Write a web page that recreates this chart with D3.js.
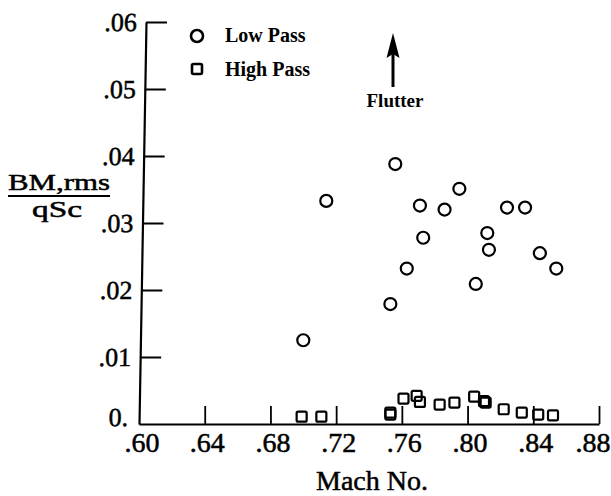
<!DOCTYPE html>
<html>
<head>
<meta charset="utf-8">
<script src="https://cdn.jsdelivr.net/npm/d3@7"></script>
<style>
  body { margin: 0; background: #fff; }
  text { font-family: "Liberation Serif", "DejaVu Serif", serif; fill: #000; }
  .heavy { stroke: #000; stroke-width: 0.5px; }
</style>
</head>
<body>
<svg id="chart" width="611" height="496"></svg>
<script>
// Low pass (circles)
const lowMach = [0.700, 0.714, 0.753, 0.756, 0.763, 0.771, 0.773, 0.786, 0.795, 0.805, 0.812, 0.813, 0.824, 0.835, 0.844, 0.854]
const lowBM   = [0.0125, 0.0333, 0.0179, 0.0388, 0.0232, 0.0326, 0.0278, 0.0320, 0.0351, 0.0209, 0.0285, 0.0260, 0.0323, 0.0323, 0.0255, 0.0232]
// High pass (squares)
const highMach = [0.699, 0.711, 0.753, 0.753, 0.761, 0.769, 0.771, 0.783, 0.792, 0.804, 0.810, 0.811, 0.822, 0.833, 0.843, 0.852]
const highBM   = [0.0011, 0.0011, 0.0017, 0.0014, 0.0038, 0.0042, 0.0033, 0.0029, 0.0032, 0.0041, 0.0034, 0.0032, 0.0022, 0.0017, 0.0014, 0.0013]

const xTicks = [0.60, 0.64, 0.68, 0.72, 0.76, 0.80, 0.84, 0.88]
const xTickLabels = [".60", ".64", ".68", ".72", ".76", ".80", ".84", ".88"]
const yTicks = [0, 0.01, 0.02, 0.03, 0.04, 0.05, 0.06]
const yTickLabels = ["0.", ".01", ".02", ".03", ".04", ".05", ".06"]

const svg = d3.select("#chart")

const x = d3.scaleLinear().domain([0.60, 0.88]).range([139, 599])
const y = d3.scaleLinear().domain([0, 0.06]).range([424, 22])

// x axis, ticks pointing up, labels below
const xAxis = svg.append("g")
  .attr("transform", "translate(0," + y(0) + ")")
  .call(d3.axisBottom(x)
    .tickValues(xTicks.slice(1))
    .tickFormat((d) => xTickLabels[xTicks.indexOf(d)])
    .tickSizeInner(-18)
    .tickSizeOuter(0)
    .tickPadding(8))
xAxis.select(".domain").attr("stroke-width", 2.2)
xAxis.selectAll(".tick line").attr("stroke-width", 1.8)
xAxis.selectAll("text").attr("class", "heavy").style("font-size", "28px").attr("dx", 2)
// last label touches the page edge
xAxis.selectAll(".tick").filter((d) => d === 0.88).select("text")
  .attr("text-anchor", "end").attr("x", 611 - x(0.88) - 1).attr("dx", 0)
// the .60 label sits at the corner
xAxis.append("text")
  .attr("class", "heavy")
  .attr("x", x(0.60) + 3)
  .attr("y", 8)
  .attr("dy", "0.71em")
  .attr("text-anchor", "middle")
  .style("font-size", "28px")
  .text(xTickLabels[0])

// y axis, slightly leaning like the scan
const lean = -7 / (y(0) - y(0.06))
const yAxis = svg.append("g")
  .attr("transform", "translate(" + (x(0.60) - lean * y(0)) + ",0) skewX(" + (Math.atan(lean) * 180 / Math.PI) + ")")
  .call(d3.axisLeft(y)
    .tickValues(yTicks)
    .tickFormat((d) => yTickLabels[yTicks.indexOf(d)])
    .tickSizeInner(-21)
    .tickSizeOuter(0)
    .tickPadding(9))
yAxis.select(".domain").attr("stroke-width", 2.2)
yAxis.selectAll(".tick line").attr("stroke-width", 2)
yAxis.selectAll(".tick").filter((d) => d === 0).select("line").remove()
yAxis.selectAll("text").attr("class", "heavy").style("font-size", "26px")
yAxis.selectAll(".tick").filter((d) => d === 0).select("text")
  .attr("x", -11).attr("dy", "0.05em")

// y label as a fraction
svg.append("text")
  .attr("class", "heavy")
  .attr("x", 59).attr("y", 190)
  .attr("text-anchor", "middle")
  .attr("textLength", 102).attr("lengthAdjust", "spacingAndGlyphs")
  .style("font-size", "23px")
  .text("BM,rms")
svg.append("line")
  .attr("x1", 8).attr("x2", 110)
  .attr("y1", 196).attr("y2", 196)
  .attr("stroke", "#000").attr("stroke-width", 2.2)
svg.append("text")
  .attr("class", "heavy")
  .attr("x", 57).attr("y", 217)
  .attr("text-anchor", "middle")
  .attr("textLength", 50).attr("lengthAdjust", "spacingAndGlyphs")
  .style("font-size", "23px")
  .text("qSc")

// x label
svg.append("text")
  .attr("class", "heavy")
  .attr("x", 372).attr("y", 490)
  .attr("text-anchor", "middle")
  .style("font-size", "28px")
  .text("Mach No.")

// data
svg.append("g").selectAll("circle")
  .data(lowMach)
  .join("circle")
  .attr("cx", (d) => x(d))
  .attr("cy", (d, i) => y(lowBM[i]))
  .attr("r", 6)
  .attr("fill", "none")
  .attr("stroke", "#000")
  .attr("stroke-width", 2.2)

svg.append("g").selectAll("rect")
  .data(highMach)
  .join("rect")
  .attr("x", (d) => x(d) - 5)
  .attr("y", (d, i) => y(highBM[i]) - 5)
  .attr("width", 10).attr("height", 10)
  .attr("rx", 1.5)
  .attr("fill", "none")
  .attr("stroke", "#000")
  .attr("stroke-width", 2.2)

// legend
svg.append("circle")
  .attr("cx", 197).attr("cy", 36).attr("r", 6)
  .attr("fill", "none").attr("stroke", "#000").attr("stroke-width", 2.6)
svg.append("text")
  .attr("x", 225).attr("y", 42)
  .style("font-size", "20px").style("font-weight", "bold")
  .text("Low Pass")
svg.append("rect")
  .attr("x", 192).attr("y", 64).attr("width", 10).attr("height", 10).attr("rx", 1.5)
  .attr("fill", "none").attr("stroke", "#000").attr("stroke-width", 2.6)
svg.append("text")
  .attr("x", 225).attr("y", 76)
  .style("font-size", "20px").style("font-weight", "bold")
  .text("High Pass")

// flutter arrow
svg.append("line")
  .attr("x1", 393).attr("x2", 393)
  .attr("y1", 87).attr("y2", 52)
  .attr("stroke", "#000").attr("stroke-width", 3)
svg.append("path")
  .attr("d", "M393,33 L386.5,58 L393,54 L399.5,58 Z")
  .attr("fill", "#000")
svg.append("text")
  .attr("x", 395).attr("y", 107)
  .attr("text-anchor", "middle")
  .style("font-size", "19px").style("font-weight", "bold")
  .text("Flutter")
</script>
</body>
</html>
